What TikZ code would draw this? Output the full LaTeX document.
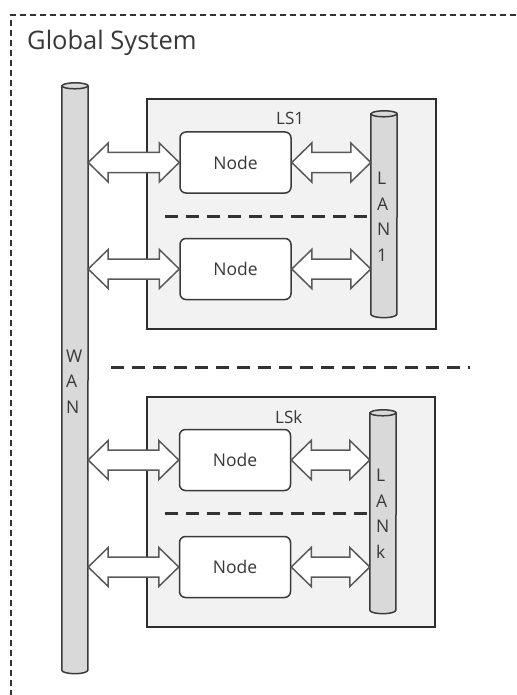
\documentclass[tikz,border=0pt]{standalone}
\usepackage{fontspec}
\setmainfont{Open Sans}
\usetikzlibrary{calc}

\definecolor{ink}{HTML}{383838}
\definecolor{framec}{HTML}{333333}
\definecolor{boxline}{HTML}{2E2E2E}
\definecolor{boxfill}{HTML}{F2F2F2}
\definecolor{nodeline}{HTML}{3A3A3A}
\definecolor{cylline}{HTML}{3A3A3A}
\definecolor{cylfill}{HTML}{D9D9D9}
\definecolor{arrowline}{HTML}{595959}
\definecolor{sepc}{HTML}{333333}

% cylinder-shaped bus drawn around a named (invisible) rectangle node
\newcommand\busbar[1]{%
  \draw[cylbody] (#1.north west) -- (#1.south west)
    arc[start angle=180, end angle=360, x radius=13pt, y radius=3.5pt]
    -- (#1.north east)
    arc[start angle=0, end angle=180, x radius=13pt, y radius=3pt] -- cycle;
  \draw[cylbody] (#1.north west)
    arc[start angle=180, end angle=360, x radius=13pt, y radius=3pt];}

% horizontal block double arrow between two points
\newcommand\dbllink[2]{%
  \path[linkarrow] let \p1=(#1), \p2=(#2) in
    (\x1,\y1) -- (\x1+20pt,\y1+19.5pt) -- (\x1+20pt,\y1+10pt)
    -- (\x2-20pt,\y1+10pt) -- (\x2-20pt,\y1+19.5pt) -- (\x2,\y1)
    -- (\x2-20pt,\y1-19.5pt) -- (\x2-20pt,\y1-10pt)
    -- (\x1+20pt,\y1-10pt) -- (\x1+20pt,\y1-19.5pt) -- cycle;}

\begin{document}
\begin{tikzpicture}[x=1pt, y=-1pt,
  frame/.style={draw=framec, line width=1.3pt, dash pattern=on 6pt off 4pt},
  sysbox/.style={draw=boxline, fill=boxfill, line width=2.2pt, inner sep=0pt, anchor=north west},
  nodebox/.style={draw=nodeline, fill=white, line width=1.5pt, rounded corners=6pt,
    minimum width=111pt, minimum height=61pt, inner sep=0pt,
    font=\fontsize{17.5}{20}\selectfont, text=ink},
  sep/.style={draw=sepc, line width=3pt, dash pattern=on 13pt off 8pt},
  bus/.style={inner sep=0pt, minimum width=26pt},
  cylbody/.style={draw=cylline, fill=cylfill, line width=1.5pt},
  busletters/.style={anchor=base west, align=left, inner sep=0pt,
    font=\fontsize{17.5}{25.5}\selectfont, text=ink},
  lslabel/.style={anchor=base west, inner sep=0pt, font=\fontsize{17}{20}\selectfont, text=ink},
  linkarrow/.style={draw=arrowline, fill=white, line width=1.5pt, line join=miter}]

\useasboundingbox (0,0) rectangle (516,695);
\fill[white] (0,0) rectangle (516,695);

% outer system frame (continues past the right and bottom edges)
\draw[frame] (516,15) -- (11,15) -- (11,695);
\node[anchor=base west, inner sep=0pt, font=\fontsize{25.5}{30}\selectfont, text=ink] (title) at (27,50) {Global System};

% local systems
\node[sysbox, minimum width=289pt, minimum height=230pt] (ls1) at (146,98) {};
\node[sysbox, minimum width=288pt, minimum height=230pt] (lsk) at (146,396) {};
\node[lslabel] (ls1lbl) at (276,125) {LS1};
\node[lslabel] (lsklbl) at (275,423) {LSk};

% buses
\node[bus, minimum height=584pt] (wan) at (75,378) {};
\node[bus, minimum height=200pt] (lan1) at (384,214) {};
\node[bus, minimum height=197pt] (lank) at (383,511.5) {};

% separators
\coordinate (s1) at (165,216);
\coordinate (sk) at (165,513);
\draw[sep] (s1) -- (s1 -| lan1.west);
\draw[sep] (sk) -- (sk -| lank.west);
\coordinate (m1) at (111,367);
\coordinate (m2) at (470,367);
\draw[sep] (m1) -- (m2);

% nodes
\node[nodebox] (n1a) at (235.5,162.5) {Node};
\node[nodebox] (n1b) at (235.5,269) {Node};
\node[nodebox] (nka) at (235,460) {Node};
\node[nodebox] (nkb) at (235,567) {Node};

\busbar{wan}
\busbar{lan1}
\busbar{lank}

% vertical bus names (anchored at the baseline of the last letter)
\node[busletters] (wanlbl) at (66,413) {W\\A\\N};
\node[busletters] (lan1lbl) at (377,261) {L\\A\\N\\1};
\node[busletters] (lanklbl) at (376,558) {L\\A\\N\\k};

% links: WAN <-> node <-> LAN
\foreach \nd/\lanbus in {n1a/lan1, n1b/lan1, nka/lank, nkb/lank} {
  \dbllink{wan.east |- \nd.west}{\nd.west}
  \dbllink{\nd.east}{\lanbus.west |- \nd.east}
}
\end{tikzpicture}
\end{document}
